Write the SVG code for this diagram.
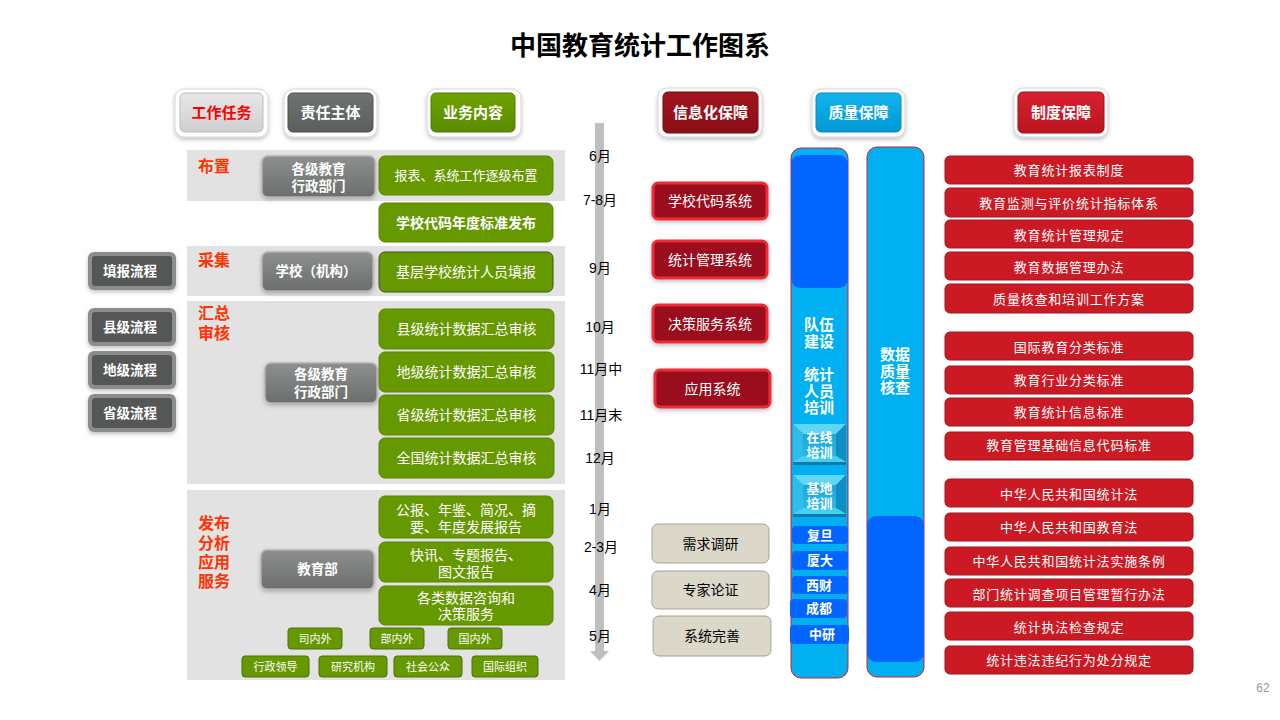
<svg xmlns="http://www.w3.org/2000/svg" width="1280" height="720" viewBox="0 0 1280 720">
<defs>
<style>
text{font-family:"Liberation Sans","Noto Sans CJK SC",sans-serif;dominant-baseline:central;text-anchor:middle}
.title{font-size:26px;font-weight:bold;fill:#000}
.hd{font-size:15px;font-weight:bold;fill:#fff}
.outer{fill:#fff;stroke:#d6d6d6;stroke-width:1}
.band{fill:#E2E2E2}
.lbl{font-size:16px;font-weight:bold;fill:#FF3300;text-anchor:start}
.gbtn{fill:url(#gGray);stroke:#b0b2b1;stroke-width:1.5}
.gtx{font-size:13.5px;font-weight:bold;fill:#fff}
.green{fill:#669900;stroke:#5a8400;stroke-width:1}
.gt{font-size:14px;fill:#fff}
.sg{fill:#669900;stroke:#4e6f10;stroke-width:1}
.st{font-size:11px;fill:#fff}
.dk{fill:#8b8d8c}
.dki{fill:#545756}
.dkt{font-size:13.5px;font-weight:bold;fill:#fff}
.mon{font-size:14px;fill:#000}
.info{fill:#9A111A;stroke:#F02A38;stroke-width:3}
.it{font-size:14px;fill:#fff}
.beige{fill:#DCD8C9;stroke:#A9A38F;stroke-width:1}
.bt{font-size:14px;fill:#000}
.col{fill:#00B0F0;stroke:#D0202C;stroke-width:1}
.dblue{fill:#0066FF}
.bw{font-size:15px;font-weight:bold;fill:#fff}
.sch{font-size:13px;font-weight:bold;fill:#fff}
.red{fill:#CC1A24;stroke:#A0141C;stroke-width:1}
.rt{font-size:13px;fill:#fff;letter-spacing:0.8px}
</style>
<linearGradient id="gGray" x1="0" y1="0" x2="0" y2="1">
<stop offset="0" stop-color="#8d908e"/><stop offset="1" stop-color="#6b6e6c"/>
</linearGradient>
<linearGradient id="hLight" x1="0" y1="0" x2="0" y2="1">
<stop offset="0" stop-color="#e8e8e8"/><stop offset="1" stop-color="#cfcfcf"/>
</linearGradient>
<linearGradient id="hDark" x1="0" y1="0" x2="0" y2="1">
<stop offset="0" stop-color="#6f7371"/><stop offset="1" stop-color="#5a5e5c"/>
</linearGradient>
<linearGradient id="hGreen" x1="0" y1="0" x2="0" y2="1">
<stop offset="0" stop-color="#6ea300"/><stop offset="1" stop-color="#5a8a00"/>
</linearGradient>
<linearGradient id="hMaroon" x1="0" y1="0" x2="0" y2="1">
<stop offset="0" stop-color="#a3141e"/><stop offset="1" stop-color="#8a0f17"/>
</linearGradient>
<linearGradient id="hBlue" x1="0" y1="0" x2="0" y2="1">
<stop offset="0" stop-color="#12b4ee"/><stop offset="1" stop-color="#0099d6"/>
</linearGradient>
<linearGradient id="hRed" x1="0" y1="0" x2="0" y2="1">
<stop offset="0" stop-color="#d92030"/><stop offset="1" stop-color="#b8151f"/>
</linearGradient>
<linearGradient id="bevC" x1="0" y1="0" x2="0" y2="1">
<stop offset="0" stop-color="#1a9fd6"/><stop offset="1" stop-color="#2cc0ee"/>
</linearGradient>
<filter id="sh" x="-20%" y="-20%" width="140%" height="150%">
<feDropShadow dx="0" dy="2" stdDeviation="2" flood-color="#000" flood-opacity="0.25"/>
</filter>
</defs>
<rect width="1280" height="720" fill="#fff"/>
<text class="title" x="640" y="46">中国教育统计工作图系</text>

<!-- header buttons -->
<g id="h-task">
<rect class="outer" x="175" y="89" width="93" height="48" rx="9" filter="url(#sh)"/>
<rect x="180" y="93" width="83" height="39" rx="5" fill="url(#hLight)" stroke="#bdbdbd"/>
<text class="hd" x="221.5" y="112.5" style="fill:#FF0000">工作任务</text>
</g>
<g id="h-subject">
<rect class="outer" x="284" y="89" width="93" height="48" rx="9" filter="url(#sh)"/>
<rect x="288" y="93" width="85" height="39" rx="5" fill="url(#hDark)" stroke="#4d504e"/>
<text class="hd" x="330.5" y="112.5">责任主体</text>
</g>
<g id="h-content">
<rect class="outer" x="427" y="89" width="94" height="48" rx="9" filter="url(#sh)"/>
<rect x="431" y="93" width="84" height="39" rx="5" fill="url(#hGreen)" stroke="#4f7a00"/>
<text class="hd" x="473" y="112.5">业务内容</text>
</g>
<g id="h-info">
<rect class="outer" x="658" y="88" width="104" height="49" rx="9" filter="url(#sh)"/>
<rect x="663" y="92" width="95" height="41" rx="5" fill="url(#hMaroon)" stroke="#700b12"/>
<text class="hd" x="710.5" y="112.5">信息化保障</text>
</g>
<g id="h-quality">
<rect class="outer" x="812" y="89" width="93" height="48" rx="9" filter="url(#sh)"/>
<rect x="816" y="93" width="85" height="39" rx="5" fill="url(#hBlue)" stroke="#0a86bc"/>
<text class="hd" x="858.5" y="112.5">质量保障</text>
</g>
<g id="h-system">
<rect class="outer" x="1014" y="88" width="94" height="49" rx="9" filter="url(#sh)"/>
<rect x="1018" y="92" width="86" height="41" rx="5" fill="url(#hRed)" stroke="#9a111a"/>
<text class="hd" x="1061" y="112.5">制度保障</text>
</g>

<!-- bands -->
<g id="bands">
<rect class="band" x="187" y="150" width="378" height="51"/>
<rect class="band" x="187" y="246" width="378" height="50"/>
<rect class="band" x="187" y="301" width="378" height="183"/>
<rect class="band" x="187" y="490" width="378" height="190"/>
</g>
<g id="stage-labels">
<text class="lbl" x="198" y="166">布置</text>
<text class="lbl" x="198" y="260">采集</text>
<text class="lbl" x="198" y="313">汇总</text>
<text class="lbl" x="198" y="333">审核</text>
<text class="lbl" x="198" y="523">发布</text>
<text class="lbl" x="198" y="543">分析</text>
<text class="lbl" x="198" y="562">应用</text>
<text class="lbl" x="198" y="581">服务</text>
</g>

<!-- left flow buttons -->
<g id="flow-fill"><rect class="dk" x="88" y="252" width="88" height="38" rx="6" filter="url(#sh)"/><rect class="dki" x="92" y="256" width="80" height="30" rx="3"/><text class="dkt" x="130" y="271">填报流程</text></g>
<g id="flow-county"><rect class="dk" x="88" y="308" width="88" height="38" rx="6" filter="url(#sh)"/><rect class="dki" x="92" y="312" width="80" height="30" rx="3"/><text class="dkt" x="130" y="327">县级流程</text></g>
<g id="flow-city"><rect class="dk" x="88" y="351" width="88" height="38" rx="6" filter="url(#sh)"/><rect class="dki" x="92" y="355" width="80" height="30" rx="3"/><text class="dkt" x="130" y="370">地级流程</text></g>
<g id="flow-prov"><rect class="dk" x="88" y="394" width="88" height="38" rx="6" filter="url(#sh)"/><rect class="dki" x="92" y="398" width="80" height="30" rx="3"/><text class="dkt" x="130" y="413">省级流程</text></g>

<!-- responsible subjects -->
<g id="s-admin1"><rect class="gbtn" x="262" y="156" width="113" height="41" rx="6" filter="url(#sh)"/><text class="gtx" x="318.5" y="169">各级教育</text><text class="gtx" x="318.5" y="186">行政部门</text></g>
<g id="s-school"><rect class="gbtn" x="262" y="252" width="111" height="39" rx="6" filter="url(#sh)"/><text class="gtx" x="316" y="271.5">学校（机构）</text></g>
<g id="s-admin2"><rect class="gbtn" x="265" y="363" width="112" height="40" rx="6" filter="url(#sh)"/><text class="gtx" x="321" y="374">各级教育</text><text class="gtx" x="321" y="392">行政部门</text></g>
<g id="s-moe"><rect class="gbtn" x="261" y="550" width="113" height="39" rx="6" filter="url(#sh)"/><text class="gtx" x="317.5" y="569.5">教育部</text></g>

<!-- business content -->
<g id="c1"><rect class="green" x="379" y="156" width="174" height="39" rx="6"/><text class="gt" x="466" y="175.5" style="font-size:13px">报表、系统工作逐级布置</text></g>
<g id="c2"><rect class="green" x="379" y="203" width="174" height="39" rx="6"/><text class="gt" x="466" y="222.5" font-weight="bold">学校代码年度标准发布</text></g>
<g id="c3"><rect class="green" x="379" y="252" width="174" height="40" rx="6" style="stroke:#3d4d20"/><text class="gt" x="466" y="272">基层学校统计人员填报</text></g>
<g id="c4"><rect class="green" x="379" y="309" width="175" height="40" rx="6"/><text class="gt" x="466.5" y="329">县级统计数据汇总审核</text></g>
<g id="c5"><rect class="green" x="379" y="352" width="175" height="40" rx="6"/><text class="gt" x="466.5" y="372">地级统计数据汇总审核</text></g>
<g id="c6"><rect class="green" x="379" y="395" width="175" height="40" rx="6"/><text class="gt" x="466.5" y="415">省级统计数据汇总审核</text></g>
<g id="c7"><rect class="green" x="379" y="438" width="175" height="40" rx="6"/><text class="gt" x="466.5" y="458">全国统计数据汇总审核</text></g>
<g id="c8"><rect class="green" x="379" y="496" width="174" height="42" rx="6"/><text class="gt" x="466" y="509.5">公报、年鉴、简况、摘</text><text class="gt" x="466" y="526.5">要、年度发展报告</text></g>
<g id="c9"><rect class="green" x="379" y="542" width="174" height="40" rx="6"/><text class="gt" x="466" y="555">快讯、专题报告、</text><text class="gt" x="466" y="571.5">图文报告</text></g>
<g id="c10"><rect class="green" x="379" y="586" width="174" height="39" rx="6"/><text class="gt" x="466" y="598">各类数据咨询和</text><text class="gt" x="466" y="614">决策服务</text></g>

<g id="users">
<g id="u1"><rect class="sg" x="288" y="628" width="54" height="21" rx="3"/><text class="st" x="315" y="638.5">司内外</text></g>
<g id="u2"><rect class="sg" x="370" y="628" width="54" height="21" rx="3"/><text class="st" x="397" y="638.5">部内外</text></g>
<g id="u3"><rect class="sg" x="448" y="628" width="54" height="21" rx="3"/><text class="st" x="475" y="638.5">国内外</text></g>
<g id="u4"><rect class="sg" x="242" y="656" width="67" height="21" rx="3"/><text class="st" x="275.5" y="666.5">行政领导</text></g>
<g id="u5"><rect class="sg" x="319" y="656" width="68" height="21" rx="3"/><text class="st" x="353" y="666.5">研究机构</text></g>
<g id="u6"><rect class="sg" x="394" y="656" width="68" height="21" rx="3"/><text class="st" x="428" y="666.5">社会公众</text></g>
<g id="u7"><rect class="sg" x="472" y="656" width="66" height="21" rx="3"/><text class="st" x="505" y="666.5">国际组织</text></g>
</g>

<!-- timeline -->
<g id="connectors">
<rect x="595" y="123" width="9" height="529" fill="#BFBFBF"/>
<polygon points="590,651 609,651 599.5,661" fill="#BFBFBF"/>
</g>
<g id="months">
<text class="mon" x="600" y="156">6月</text>
<text class="mon" x="600" y="200">7-8月</text>
<text class="mon" x="600" y="268">9月</text>
<text class="mon" x="600" y="327">10月</text>
<text class="mon" x="601" y="369">11月中</text>
<text class="mon" x="601" y="415">11月末</text>
<text class="mon" x="600" y="458">12月</text>
<text class="mon" x="600" y="509">1月</text>
<text class="mon" x="601" y="547">2-3月</text>
<text class="mon" x="600" y="590">4月</text>
<text class="mon" x="600" y="636">5月</text>
</g>

<!-- information systems -->
<g id="i1"><rect class="info" x="653" y="183" width="114" height="36" rx="5" filter="url(#sh)"/><text class="it" x="710" y="201">学校代码系统</text></g>
<g id="i2"><rect class="info" x="653" y="241" width="114" height="37" rx="5" filter="url(#sh)"/><text class="it" x="710" y="259.5">统计管理系统</text></g>
<g id="i3"><rect class="info" x="653" y="305" width="114" height="37" rx="5" filter="url(#sh)"/><text class="it" x="710" y="323.5">决策服务系统</text></g>
<g id="i4"><rect class="info" x="655" y="370" width="115" height="37" rx="5" filter="url(#sh)"/><text class="it" x="712.5" y="388.5">应用系统</text></g>
<g id="b1"><rect class="beige" x="652" y="524" width="117" height="39" rx="6"/><text class="bt" x="710.5" y="543.5">需求调研</text></g>
<g id="b2"><rect class="beige" x="652" y="571" width="117" height="38" rx="6"/><text class="bt" x="710.5" y="590">专家论证</text></g>
<g id="b3"><rect class="beige" x="653" y="616" width="118" height="40" rx="6"/><text class="bt" x="712" y="636">系统完善</text></g>

<!-- quality columns -->
<g id="q-team">
<rect class="col" x="791" y="148" width="57" height="530" rx="10"/>
<rect class="dblue" x="791" y="155" width="57" height="133" rx="9"/>
<text class="bw" x="819" y="324">队伍</text>
<text class="bw" x="819" y="341">建设</text>
<text class="bw" x="819" y="374">统计</text>
<text class="bw" x="819" y="391">人员</text>
<text class="bw" x="819" y="407">培训</text>
</g>
<g id="q-online">
<rect x="793" y="424" width="53" height="41" fill="url(#bevC)"/>
<polygon points="793,424 846,424 836,434 803,434" fill="#5FD6F4"/>
<polygon points="793,424 803,434 803,456 793,462" fill="#2FBCE8"/>
<polygon points="846,424 846,462 836,456 836,434" fill="#0E8FC4"/>
<polygon points="793,462 803,456 836,456 846,462" fill="#45CFF3"/>
<rect x="793" y="462" width="53" height="3" fill="#1278A8"/>
<text class="sch" x="819.5" y="437">在线</text>
<text class="sch" x="819.5" y="452">培训</text>
</g>
<g id="q-base">
<rect x="793" y="475" width="53" height="42" fill="url(#bevC)"/>
<polygon points="793,475 846,475 836,485 803,485" fill="#5FD6F4"/>
<polygon points="793,475 803,485 803,508 793,514" fill="#2FBCE8"/>
<polygon points="846,475 846,514 836,508 836,485" fill="#0E8FC4"/>
<polygon points="793,514 803,508 836,508 846,514" fill="#45CFF3"/>
<rect x="793" y="514" width="53" height="3" fill="#1278A8"/>
<text class="sch" x="819.5" y="488">基地</text>
<text class="sch" x="819.5" y="503">培训</text>
</g>
<g id="q-fd"><rect class="dblue" x="792" y="526" width="56" height="18" rx="4"/><text class="sch" x="820" y="535">复旦</text></g>
<g id="q-xd"><rect class="dblue" x="792" y="551" width="56" height="19" rx="4"/><text class="sch" x="820" y="560.5">厦大</text></g>
<g id="q-xc"><rect class="dblue" x="792" y="576" width="56" height="18" rx="4"/><text class="sch" x="819" y="585">西财</text></g>
<g id="q-cd"><rect class="dblue" x="790" y="599" width="57" height="19" rx="4"/><text class="sch" x="819" y="608.5">成都</text></g>
<g id="q-zy"><rect class="dblue" x="790" y="625" width="59" height="19" rx="4"/><text class="sch" x="822" y="634.5">中研</text></g>

<g id="q-check">
<rect class="col" x="867" y="147" width="57" height="530" rx="10"/>
<rect class="dblue" x="867" y="516" width="57" height="146" rx="9"/>
<text class="bw" x="895" y="354">数据</text>
<text class="bw" x="895" y="371">质量</text>
<text class="bw" x="895" y="387">核查</text>
</g>

<!-- regulations -->
<g id="r1"><rect class="red" x="945" y="156" width="248" height="28" rx="5"/><text class="rt" x="1069" y="170.5">教育统计报表制度</text></g>
<g id="r2"><rect class="red" x="945" y="188" width="248" height="29" rx="5"/><text class="rt" x="1069" y="203">教育监测与评价统计指标体系</text></g>
<g id="r3"><rect class="red" x="945" y="220" width="248" height="28" rx="5"/><text class="rt" x="1069" y="235">教育统计管理规定</text></g>
<g id="r4"><rect class="red" x="945" y="252" width="248" height="28" rx="5"/><text class="rt" x="1069" y="267">教育数据管理办法</text></g>
<g id="r5"><rect class="red" x="945" y="284" width="248" height="29" rx="5"/><text class="rt" x="1069" y="299">质量核查和培训工作方案</text></g>
<g id="r6"><rect class="red" x="945" y="332" width="248" height="28" rx="5"/><text class="rt" x="1069" y="347">国际教育分类标准</text></g>
<g id="r7"><rect class="red" x="945" y="366" width="248" height="28" rx="5"/><text class="rt" x="1069" y="380.5">教育行业分类标准</text></g>
<g id="r8"><rect class="red" x="945" y="398" width="248" height="28" rx="5"/><text class="rt" x="1069" y="412.5">教育统计信息标准</text></g>
<g id="r9"><rect class="red" x="945" y="432" width="248" height="28" rx="5"/><text class="rt" x="1069" y="445.5">教育管理基础信息代码标准</text></g>
<g id="r10"><rect class="red" x="945" y="479" width="248" height="28" rx="5"/><text class="rt" x="1069" y="494">中华人民共和国统计法</text></g>
<g id="r11"><rect class="red" x="945" y="513" width="248" height="28" rx="5"/><text class="rt" x="1069" y="527">中华人民共和国教育法</text></g>
<g id="r12"><rect class="red" x="945" y="547" width="248" height="28" rx="5"/><text class="rt" x="1069" y="561">中华人民共和国统计法实施条例</text></g>
<g id="r13"><rect class="red" x="945" y="579" width="248" height="28" rx="5"/><text class="rt" x="1069" y="594">部门统计调查项目管理暂行办法</text></g>
<g id="r14"><rect class="red" x="945" y="612" width="248" height="28" rx="5"/><text class="rt" x="1069" y="627">统计执法检查规定</text></g>
<g id="r15"><rect class="red" x="945" y="646" width="248" height="28" rx="5"/><text class="rt" x="1069" y="660">统计违法违纪行为处分规定</text></g>

<text x="1263" y="688" style="font-size:12px;fill:#999">62</text>
</svg>
